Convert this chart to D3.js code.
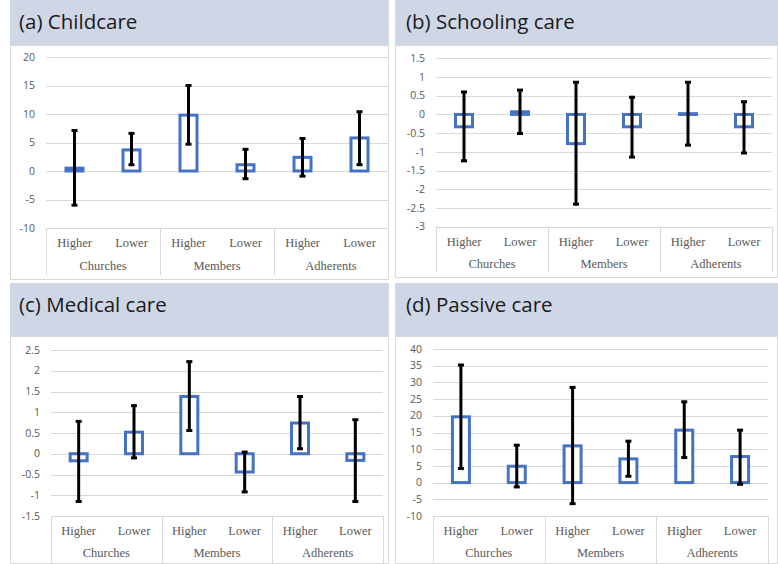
<!DOCTYPE html>
<html>
<head>
<meta charset="utf-8">
<script src="https://cdn.jsdelivr.net/npm/d3@7"></script>
<style>
  body { margin: 0; background: #fff; }
  svg { display: block; }
  .tick-label { font-family: "Open Sans", "Noto Sans", sans-serif; font-size: 10.5px; fill: #595959; }
  .cat-label { font-family: "Liberation Serif", serif; font-size: 12.5px; fill: #595959; }
  .title { font-family: "Open Sans", "Noto Sans", sans-serif; font-size: 20.5px; fill: #1a1a1a; }
</style>
</head>
<body>
<svg id="chart" width="778" height="564"></svg>
<script>
// categories
const groups = ["Churches", "Members", "Adherents"];
const levels = ["Higher", "Lower"];

// mean values and error bar ends, order: Churches H/L, Members H/L, Adherents H/L
const childcareMean = [0.5, 3.7, 9.8, 1.1, 2.4, 5.8];
const childcareLow  = [-6, 1.1, 4.7, -1.35, -0.9, 1.1];
const childcareHigh = [7.1, 6.6, 15, 3.8, 5.7, 10.4];

const schoolingMean = [-0.33, 0.07, -0.78, -0.33, 0.02, -0.33];
const schoolingLow  = [-1.24, -0.51, -2.4, -1.14, -0.82, -1.03];
const schoolingHigh = [0.6, 0.65, 0.86, 0.46, 0.86, 0.34];

const medicalMean = [-0.17, 0.52, 1.38, -0.44, 0.74, -0.16];
const medicalLow  = [-1.15, -0.1, 0.56, -0.92, 0.12, -1.15];
const medicalHigh = [0.78, 1.16, 2.22, 0.04, 1.38, 0.82];

const passiveMean = [19.7, 4.9, 11, 7.1, 15.7, 7.8];
const passiveLow  = [4.2, -1.3, -6.3, 1.9, 7.5, -0.5];
const passiveHigh = [35.2, 11.2, 28.5, 12.4, 24.2, 15.7];

// tick values
const childcareTicks = [-10, -5, 0, 5, 10, 15, 20];
const schoolingTicks = [-3, -2.5, -2, -1.5, -1, -0.5, 0, 0.5, 1, 1.5];
const medicalTicks = [-1.5, -1, -0.5, 0, 0.5, 1, 1.5, 2, 2.5];
const passiveTicks = [-10, -5, 0, 5, 10, 15, 20, 25, 30, 35, 40];

const svg = d3.select("#chart");
const fmt = d => String(+d.toFixed(1));

function drawPanel(p) {
    const g = svg.append("g");

    // header band + white plot area
    g.append("rect").attr("x", p.x0).attr("y", p.y0).attr("width", p.x1 - p.x0).attr("height", p.headerBottom - p.y0)
        .attr("fill", "#cfd7e7");
    g.append("rect").attr("x", p.x0 + 0.5).attr("y", p.headerBottom + 0.5)
        .attr("width", p.x1 - p.x0 - 1).attr("height", p.y1 - p.headerBottom - 1)
        .attr("fill", "#fff").attr("stroke", "#d9d9d9");

    g.append("text").attr("class", "title").attr("x", p.titleX).attr("y", p.titleY).text(p.title);

    const y = d3.scaleLinear().domain(d3.extent(p.ticks)).range([p.plotBottom, p.plotTop]);

    const keys = [];
    groups.forEach(gr => levels.forEach(l => keys.push(gr + "|" + l)));
    const x = d3.scaleBand().domain(keys).range([p.plotLeft, p.plotRight]);
    const xg = d3.scaleBand().domain(groups).range([p.plotLeft, p.plotRight]);

    // gridlines
    g.append("g").selectAll("line").data(p.ticks).join("line")
        .attr("x1", p.plotLeft).attr("x2", p.plotRight)
        .attr("y1", d => Math.round(y(d)) + 0.5).attr("y2", d => Math.round(y(d)) + 0.5)
        .attr("stroke", "#d9d9d9");

    // y tick labels
    g.append("g").selectAll("text").data(p.ticks).join("text")
        .attr("class", "tick-label")
        .attr("x", p.plotLeft - 11).attr("y", d => y(d)).attr("dy", "0.35em")
        .attr("text-anchor", "end").text(fmt);

    // category box separators
    const sep = g.append("g").attr("stroke", "#d9d9d9");
    sep.selectAll("line").data(groups.concat(["end"])).join("line")
        .attr("x1", (d, i) => i < groups.length ? Math.round(xg(d)) + 0.5 : p.plotRight + 0.5)
        .attr("x2", (d, i) => i < groups.length ? Math.round(xg(d)) + 0.5 : p.plotRight + 0.5)
        .attr("y1", y(p.ticks[0])).attr("y2", p.boxBottom);

    // level labels
    g.append("g").selectAll("text").data(keys).join("text")
        .attr("class", "cat-label")
        .attr("x", d => x(d) + x.bandwidth() / 2).attr("y", p.levelY)
        .attr("text-anchor", "middle").attr("dy", "0.35em")
        .text(d => d.split("|")[1]);

    // group labels
    g.append("g").selectAll("text").data(groups).join("text")
        .attr("class", "cat-label")
        .attr("x", d => xg(d) + xg.bandwidth() / 2).attr("y", p.groupY)
        .attr("text-anchor", "middle").attr("dy", "0.35em")
        .text(d => d);

    const rows = keys.map((k, i) => ({ k, mean: p.mean[i], lo: p.low[i], hi: p.high[i] }));
    const bw = 17;

    // bars (outlined)
    g.append("g").selectAll("rect").data(rows).join("rect")
        .attr("x", d => x(d.k) + x.bandwidth() / 2 - bw / 2)
        .attr("y", d => Math.min(y(d.mean), y(0)))
        .attr("width", bw)
        .attr("height", d => Math.abs(y(d.mean) - y(0)))
        .attr("fill", "#fff").attr("stroke", "#4472c4").attr("stroke-width", 3);

    // error bars
    const eb = g.append("g").attr("stroke", "#000");
    eb.selectAll("line.stem").data(rows).join("line").attr("class", "stem")
        .attr("x1", d => x(d.k) + x.bandwidth() / 2).attr("x2", d => x(d.k) + x.bandwidth() / 2)
        .attr("y1", d => y(d.lo)).attr("y2", d => y(d.hi))
        .attr("stroke-width", 3);
    ["lo", "hi"].forEach(end => {
        eb.selectAll("line.cap-" + end).data(rows).join("line").attr("class", "cap-" + end)
            .attr("x1", d => x(d.k) + x.bandwidth() / 2 - 3).attr("x2", d => x(d.k) + x.bandwidth() / 2 + 3)
            .attr("y1", d => y(d[end])).attr("y2", d => y(d[end]))
            .attr("stroke-width", 3);
    });
}

drawPanel({
    title: "(a) Childcare", mean: childcareMean, low: childcareLow, high: childcareHigh, ticks: childcareTicks,
    x0: 10, x1: 389, y0: 0, headerBottom: 45, y1: 280, titleX: 19, titleY: 29,
    plotLeft: 46, plotRight: 388, plotTop: 57, plotBottom: 228, boxBottom: 275, levelY: 243, groupY: 266
});
drawPanel({
    title: "(b) Schooling care", mean: schoolingMean, low: schoolingLow, high: schoolingHigh, ticks: schoolingTicks,
    x0: 395, x1: 778, y0: 0, headerBottom: 45, y1: 278, titleX: 406, titleY: 29,
    plotLeft: 436, plotRight: 772, plotTop: 58.3, plotBottom: 226.7, boxBottom: 272, levelY: 242, groupY: 264
});
drawPanel({
    title: "(c) Medical care", mean: medicalMean, low: medicalLow, high: medicalHigh, ticks: medicalTicks,
    x0: 10, x1: 389, y0: 283, headerBottom: 336, y1: 564, titleX: 19, titleY: 312,
    plotLeft: 51, plotRight: 383, plotTop: 350, plotBottom: 516, boxBottom: 564, levelY: 531, groupY: 553
});
drawPanel({
    title: "(d) Passive care", mean: passiveMean, low: passiveLow, high: passiveHigh, ticks: passiveTicks,
    x0: 395, x1: 778, y0: 283, headerBottom: 336, y1: 564, titleX: 406, titleY: 312,
    plotLeft: 433, plotRight: 768, plotTop: 349, plotBottom: 516, boxBottom: 564, levelY: 531, groupY: 553
});
</script>
</body>
</html>
